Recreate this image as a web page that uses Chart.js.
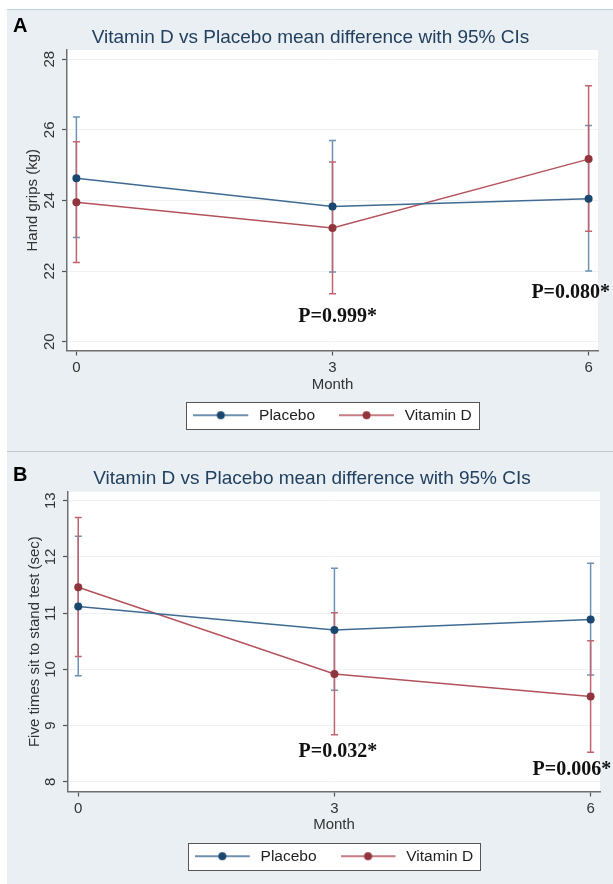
<!DOCTYPE html>
<html>
<head>
<meta charset="utf-8">
<script src="https://cdn.jsdelivr.net/npm/chart.js@4/dist/chart.umd.min.js"></script>
<style>
  body { margin: 0; background: #fff; width: 613px; height: 884px; overflow: hidden; position: relative; font-family: "Liberation Sans", Arial, sans-serif; }
  .panel { position: absolute; left: 7px; width: 606px; background: #e9eff3; }
  #panelA { top: 9px; height: 442px; border-top: 1px solid #b9d2e6; }
  #panelB { top: 451px; height: 433px; border-top: 1px solid #c3c8cc; }
  canvas { position: absolute; left: 0; }
  .tag { position: absolute; left: 13px; font: bold 20px/20px "Liberation Sans", Arial, sans-serif; color: #000; }
</style>
</head>
<body>
<div class="panel" id="panelA"></div>
<div class="panel" id="panelB"></div>
<canvas id="chartA" width="613" height="451" style="top:0;width:613px;height:451px"></canvas>
<canvas id="chartB" width="613" height="433" style="top:451px;width:613px;height:433px"></canvas>
<div class="tag" style="top:15px">A</div>
<div class="tag" style="top:464px">B</div>
<script>
const months = [0, 3, 6];
const seriesNames = ['Placebo', 'Vitamin D'];
const chartTitle = 'Vitamin D vs Placebo mean difference with 95% CIs';

// A: hand grips (kg)
const gripTicks = [20, 22, 24, 26, 28];
const gripPlacebo = [24.63, 23.83, 24.05];
const gripPlaceboLo = [22.95, 21.97, 22.00];
const gripPlaceboHi = [26.36, 25.70, 26.12];
const gripVitD = [23.95, 23.22, 25.17];
const gripVitDLo = [22.24, 21.36, 23.13];
const gripVitDHi = [25.66, 25.09, 27.25];
const gripPText = ['P=0.999*', 'P=0.080*'];
const gripPMonth = [3.06, 5.79];
const gripPValue = [20.71, 21.37];

// B: five times sit to stand (sec)
const standTicks = [8, 9, 10, 11, 12, 13];
const standPlacebo = [11.12, 10.70, 10.89];
const standPlaceboLo = [9.89, 9.63, 9.90];
const standPlaceboHi = [12.37, 11.80, 11.89];
const standVitD = [11.46, 9.92, 9.52];
const standVitDLo = [10.23, 8.84, 8.53];
const standVitDHi = [12.70, 11.01, 10.51];
const standPText = ['P=0.032*', 'P=0.006*'];
const standPMonth = [3.04, 5.78];
const standPValue = [8.54, 8.21];

const FONT = '"Liberation Sans", Arial, sans-serif';
const blue = { dot: '#1a476f', line: '#3f6b93', ci: '#6d92b4' };
const red = { dot: '#90353b', line: '#b4525b', ci: '#c2646d' };

// line-with-dot key, like the Stata legend
function legendMark(c) {
    const cv = document.createElement('canvas');
    cv.width = 58; cv.height = 12;
    const g = cv.getContext('2d');
    g.strokeStyle = c.line; g.lineWidth = 1.5;
    g.beginPath(); g.moveTo(0, 6); g.lineTo(55, 6); g.stroke();
    g.fillStyle = c.dot;
    g.beginPath(); g.arc(27.5, 6, 4, 0, Math.PI * 2); g.fill();
    return cv;
}
const marks = [legendMark(blue), legendMark(red)];

function points(vals) {
    return months.map((m, i) => ({ x: m, y: vals[i] }));
}

function drawPanel(id, p) {
    const extras = {
        id: 'extras' + id,
        beforeDraw(chart) {
            const { ctx, chartArea: a } = chart;
            ctx.save();
            ctx.fillStyle = '#fff';
            ctx.fillRect(a.left, a.top, a.right - a.left, a.bottom - a.top);
            const hb = chart.legend.legendHitBoxes;
            if (hb && hb.length) {
                const l = Math.round(Math.min(...hb.map(b => b.left)) - 7);
                const r = Math.round(Math.max(...hb.map(b => b.left + b.width)) + 7);
                const t = Math.round(hb[0].top - 6);
                const b = Math.round(hb[0].top + hb[0].height + 6);
                ctx.fillRect(l, t, r - l, b - t);
                ctx.strokeStyle = '#555';
                ctx.lineWidth = 1;
                ctx.strokeRect(l + 0.5, t + 0.5, r - l, b - t);
            }
            ctx.restore();
        },
        beforeDatasetsDraw(chart) {
            const { ctx, scales: { x, y } } = chart;
            ctx.save();
            p.cis.forEach(ci => {
                ctx.strokeStyle = ci.color;
                ctx.lineWidth = 1.5;
                months.forEach((m, i) => {
                    const px = x.getPixelForValue(m);
                    const lo = y.getPixelForValue(ci.lo[i]);
                    const hi = y.getPixelForValue(ci.hi[i]);
                    ctx.beginPath();
                    ctx.moveTo(px, lo); ctx.lineTo(px, hi);
                    ctx.moveTo(px - 3.5, lo); ctx.lineTo(px + 3.5, lo);
                    ctx.moveTo(px - 3.5, hi); ctx.lineTo(px + 3.5, hi);
                    ctx.stroke();
                });
            });
            ctx.restore();
        },
        afterDatasetsDraw(chart) {
            const { ctx, scales: { x, y } } = chart;
            ctx.save();
            ctx.font = 'bold 20px "Liberation Serif", "Times New Roman", serif';
            ctx.fillStyle = '#111';
            ctx.textAlign = 'center';
            ctx.textBaseline = 'middle';
            p.pText.forEach((t, i) => {
                ctx.fillText(t, x.getPixelForValue(p.pMonth[i]), y.getPixelForValue(p.pValue[i]));
            });
            ctx.restore();
        }
    };

    new Chart(document.getElementById(id), {
        type: 'line',
        data: {
            datasets: [
                { label: seriesNames[0], data: points(p.placebo), borderColor: blue.line, borderWidth: 1.5,
                  pointRadius: 4, pointBackgroundColor: blue.dot, pointBorderWidth: 0, tension: 0 },
                { label: seriesNames[1], data: points(p.vitD), borderColor: red.line, borderWidth: 1.5,
                  pointRadius: 4, pointBackgroundColor: red.dot, pointBorderWidth: 0, tension: 0 }
            ]
        },
        options: {
            responsive: false,
            animation: false,
            events: [],
            layout: { padding: { top: p.padTop, right: p.padRight, bottom: p.padBottom, left: p.padLeft } },
            plugins: {
                tooltip: { enabled: false },
                title: {
                    display: true, text: chartTitle, color: '#22405f',
                    font: { family: FONT, size: 19, weight: 'normal' },
                    padding: { top: p.titleTop, bottom: p.titleBottom }
                },
                legend: {
                    position: 'bottom',
                    fullSize: false,
                    labels: {
                        usePointStyle: true, pointStyleWidth: 58, boxHeight: 12,
                        padding: 24, color: '#222',
                        font: { family: FONT, size: 15.5 },
                        generateLabels(chart) {
                            return Chart.defaults.plugins.legend.labels.generateLabels(chart)
                                .map(l => Object.assign(l, { pointStyle: marks[l.datasetIndex] }));
                        }
                    }
                }
            },
            scales: {
                x: {
                    type: 'linear', min: p.xMin, max: p.xMax,
                    afterBuildTicks: s => { s.ticks = months.map(v => ({ value: v })); },
                    afterFit: s => { s.height = p.xHeight; },
                    grid: { drawOnChartArea: false, tickLength: 5, tickColor: '#555', tickWidth: 1.2 },
                    border: { color: '#707070', width: 1.5 },
                    ticks: { color: '#333', font: { family: FONT, size: 15 }, padding: 3 },
                    title: { display: true, text: 'Month', color: '#333', font: { family: FONT, size: 15 },
                             padding: { top: 0, bottom: p.monthPad } }
                },
                y: {
                    min: p.yMin, max: p.yMax,
                    afterBuildTicks: s => { s.ticks = p.yTicks.map(v => ({ value: v })); },
                    afterFit: s => { s.width = p.yWidth; },
                    grid: { color: '#eef2f5', tickLength: 5, tickColor: '#555', tickWidth: 1.2 },
                    border: { color: '#707070', width: 1.5 },
                    ticks: { color: '#333', font: { family: FONT, size: 15 }, padding: 4,
                             minRotation: 90, maxRotation: 90, crossAlign: 'center', autoSkip: false },
                    title: { display: true, text: p.yTitle, color: '#333', font: { family: FONT, size: 15 },
                             padding: { top: p.yTitlePad, bottom: 0 } }
                }
            }
        },
        plugins: [extras]
    });
}

drawPanel('chartA', {
    placebo: gripPlacebo, vitD: gripVitD,
    cis: [{ lo: gripPlaceboLo, hi: gripPlaceboHi, color: blue.ci },
          { lo: gripVitDLo, hi: gripVitDHi, color: red.ci }],
    pText: gripPText, pMonth: gripPMonth, pValue: gripPValue,
    yTicks: gripTicks, yMin: 19.75, yMax: 28.26, xMin: -0.11, xMax: 6.11,
    yTitle: 'Hand grips (kg)', yTitlePad: 1, yWidth: 44,
    padTop: 20, padRight: 15, padBottom: 18, padLeft: 23,
    titleTop: 6.3, titleBottom: 0.9, xHeight: 33, monthPad: -10
});

drawPanel('chartB', {
    placebo: standPlacebo, vitD: standVitD,
    cis: [{ lo: standPlaceboLo, hi: standPlaceboHi, color: blue.ci },
          { lo: standVitDLo, hi: standVitDHi, color: red.ci }],
    pText: standPText, pMonth: standPMonth, pValue: standPValue,
    yTicks: standTicks, yMin: 7.83, yMax: 13.16, xMin: -0.12, xMax: 6.11,
    yTitle: 'Five times sit to stand test (sec)', yTitlePad: 2, yWidth: 44,
    padTop: 10, padRight: 13, padBottom: 10, padLeft: 24,
    titleTop: 6.6, titleBottom: 1.3, xHeight: 33, monthPad: -9.3
});
</script>
</body>
</html>
